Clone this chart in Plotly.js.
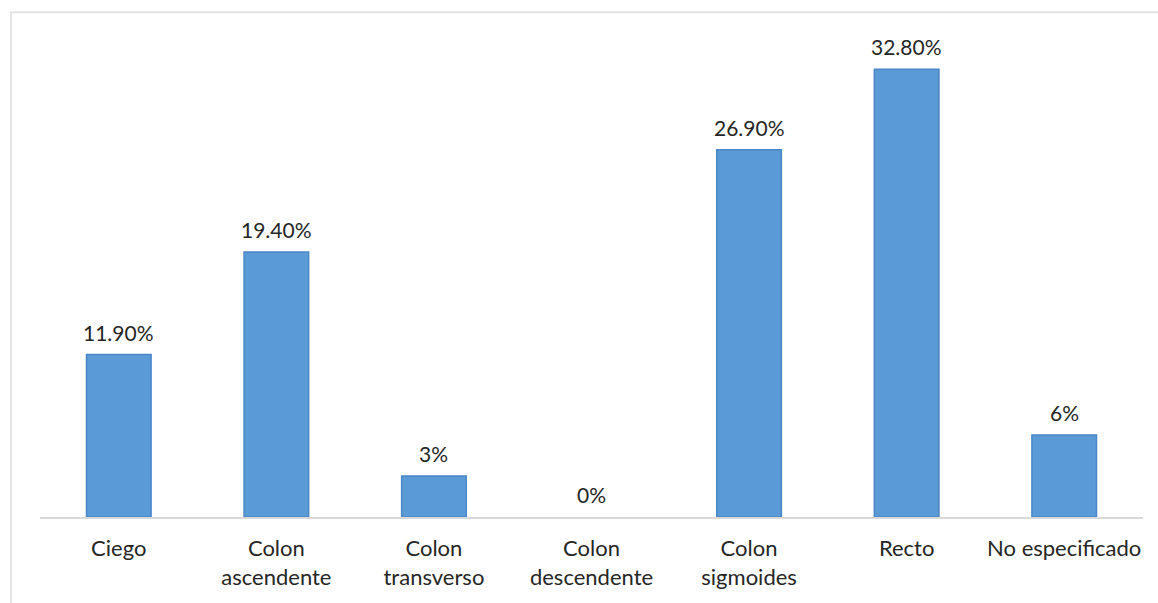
<!DOCTYPE html>
<html>
<head>
<meta charset="utf-8">
<script src="https://cdn.plot.ly/plotly-3.0.1.min.js"></script>
<style>
  html, body { margin: 0; padding: 0; background: #ffffff; }
  #chart { width: 1158px; height: 603px; }
</style>
</head>
<body>
<div id="chart"></div>
<script>
// Localización del tumor (porcentaje de casos)
const categorias = ['Ciego', 'Colon ascendente', 'Colon transverso', 'Colon descendente', 'Colon sigmoides', 'Recto', 'No especificado'];
const etiquetasEje = ['Ciego', 'Colon<br>ascendente', 'Colon<br>transverso', 'Colon<br>descendente', 'Colon<br>sigmoides', 'Recto', 'No especificado'];
const porcentajes = [11.9, 19.4, 3, 0, 26.9, 32.8, 6];
const etiquetasValor = ['11.90%', '19.40%', '3%', '0%', '26.90%', '32.80%', '6%'];

const fuente = 'Lato, "Open Sans", sans-serif';
const colorTexto = '#262626';

const barras = {
  type: 'bar',
  x: categorias,
  y: porcentajes,
  marker: {
    color: '#5B9BD5',
    // sin contorno en las barras de valor nulo
    line: { color: '#4A86C8', width: porcentajes.map(v => (v > 0 ? 1.5 : 0)) }
  },
  hoverinfo: 'skip'
};

const anotaciones = categorias.map((c, i) => ({
  x: c,
  y: porcentajes[i],
  xref: 'x',
  yref: 'y',
  text: etiquetasValor[i],
  showarrow: false,
  yanchor: 'bottom',
  yshift: 8,
  font: { family: fuente, size: 21, color: colorTexto }
}));

const layout = {
  width: 1158,
  height: 603,
  margin: { l: 40, r: 15, t: 20, b: 86, pad: 0 },
  paper_bgcolor: '#ffffff',
  plot_bgcolor: '#ffffff',
  showlegend: false,
  bargap: 0.59,
  xaxis: {
    type: 'category',
    tickvals: categorias,
    ticktext: etiquetasEje,
    showgrid: false,
    zeroline: false,
    showline: true,
    linecolor: '#D9D9D9',
    linewidth: 1.5,
    ticks: '',
    ticklabelstandoff: 11,
    tickfont: { family: fuente, size: 22, color: colorTexto },
    fixedrange: true
  },
  yaxis: {
    range: [0, 36.4],
    visible: false,
    showgrid: false,
    zeroline: false,
    fixedrange: true
  },
  annotations: anotaciones,
  shapes: [
    // marco exterior del gráfico (bordes superior e izquierdo)
    {
      type: 'path',
      xref: 'paper', yref: 'paper',
      path: 'M -0.0263,-0.2 L -0.0263,1.0157 L 1.02,1.0157',
      line: { color: '#E3E3E3', width: 2 }
    }
  ]
};

Plotly.newPlot('chart', [barras], layout, { staticPlot: true, displayModeBar: false });
</script>
</body>
</html>
